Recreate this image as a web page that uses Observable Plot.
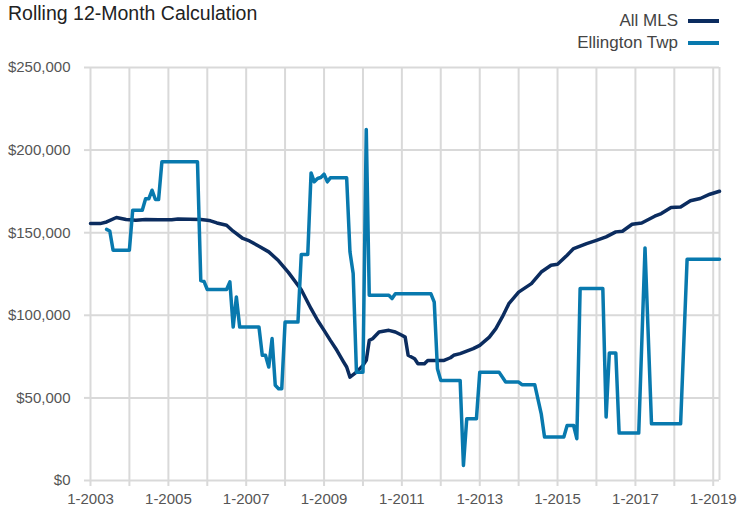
<!DOCTYPE html>
<html>
<head>
<meta charset="utf-8">
<script src="https://cdn.jsdelivr.net/npm/d3@7"></script>
<script src="https://cdn.jsdelivr.net/npm/@observablehq/plot@0.6"></script>
<style>
  body { margin: 0; background: #fff; }
  #wrap { position: relative; width: 738px; height: 515px; font-family: "Liberation Sans", Arial, sans-serif; }
  #header { position: relative; height: 50px; }
  #title { position: absolute; left: 8px; top: 1px; font-size: 19.5px; line-height: 24px; color: #222; white-space: nowrap; }
  .leg { position: absolute; right: 60px; font-size: 17px; line-height: 20px; color: #444; white-space: nowrap; }
  .sw { position: absolute; left: 688px; width: 31px; height: 4px; }
  svg { display: block; }
</style>
</head>
<body>
<div id="wrap">
  <div id="header">
    <div id="title">Rolling 12-Month Calculation</div>
    <div class="leg" id="leg1" style="top:11px">All MLS</div>
    <div class="sw" id="sw1" style="top:19px"></div>
    <div class="leg" id="leg2" style="top:33px">Ellington Twp</div>
    <div class="sw" id="sw2" style="top:41px"></div>
  </div>
  <div id="chart"></div>
</div>
<script>
const seriesNames = ["All MLS", "Ellington Twp"];
const seriesColors = ["#0b2c5f", "#0879ae"];

const mlsMonths = ["2003-01","2003-04","2003-06","2003-09","2003-12","2004-03","2004-06","2004-10","2005-02","2005-04","2005-11","2006-01","2006-02","2006-04","2006-07","2006-09","2006-12","2007-02","2007-05","2007-08","2007-11","2008-02","2008-06","2008-09","2008-11","2009-01","2009-03","2009-05","2009-07","2009-08","2009-09","2009-11","2010-01","2010-02","2010-03","2010-04","2010-06","2010-09","2010-11","2011-01","2011-02","2011-03","2011-05","2011-06","2011-08","2011-09","2012-02","2012-04","2012-05","2012-07","2012-11","2013-01","2013-04","2013-06","2013-08","2013-10","2014-01","2014-05","2014-08","2014-11","2015-01","2015-04","2015-06","2015-10","2016-01","2016-04","2016-07","2016-09","2016-12","2017-03","2017-07","2017-09","2017-12","2018-03","2018-06","2018-09","2018-12","2019-03"];
const mlsValues = [155500,155500,156500,159200,158000,157500,158000,157800,157800,158300,158000,157500,157200,155900,154500,150900,146500,145000,141800,138400,133000,126000,115500,104000,97000,90900,84800,78800,72000,68700,62600,65600,69700,72700,84800,85800,89900,90900,89900,87900,86800,75800,73700,70700,70700,72700,72700,74300,75800,76800,79800,81800,86800,91900,99000,107000,114000,119200,126200,130300,130900,136400,140400,143400,145400,147500,150500,150900,155100,155900,160000,161600,165300,165600,169300,170700,173300,175100];

const twpMonths = ["2003-06","2003-07","2003-08","2004-01","2004-02","2004-05","2004-06","2004-07","2004-08","2004-09","2004-10","2004-11","2005-10","2005-11","2005-12","2006-01","2006-07","2006-08","2006-09","2006-10","2006-11","2007-05","2007-06","2007-07","2007-08","2007-09","2007-10","2007-11","2007-12","2008-01","2008-05","2008-06","2008-08","2008-09","2008-10","2008-11","2008-12","2009-01","2009-02","2009-03","2009-08","2009-09","2009-10","2009-11","2010-01","2010-02","2010-03","2010-09","2010-10","2010-11","2011-10","2011-11","2011-12","2012-01","2012-07","2012-08","2012-09","2012-12","2013-01","2013-07","2013-09","2014-01","2014-02","2014-06","2014-08","2014-09","2015-03","2015-04","2015-06","2015-07","2015-08","2016-03","2016-04","2016-05","2016-07","2016-08","2017-02","2017-04","2017-06","2018-03","2018-05","2019-03"];
const twpValues = [152000,151000,139400,139400,163600,163600,170500,170500,175700,170100,170100,192900,192900,121000,120500,115600,115600,120200,92900,111100,92900,92900,75800,75800,68700,85900,57600,55600,55600,95900,95900,136800,136800,186200,180800,182800,183400,185400,180800,183200,183200,138400,125300,65600,65600,212500,112100,112100,110100,113000,113000,108000,67700,60600,60600,9100,37400,37400,65600,65600,59600,59600,58000,58000,40400,26300,26300,33300,33300,25300,116200,116200,38400,77200,77200,28700,28700,140800,34300,34300,133900,133900];

const yTicks = [0, 50000, 100000, 150000, 200000, 250000];
const xStart = "2003-01", xEnd = "2019-03";
const firstYear = 2003, lastYear = 2019;

const parse = s => { const [y, m] = s.split("-").map(Number); return new Date(Date.UTC(y, m - 1, 1)); };
const mls = mlsMonths.map((d, i) => ({date: parse(d), value: mlsValues[i], series: seriesNames[0]}));
const twp = twpMonths.map((d, i) => ({date: parse(d), value: twpValues[i], series: seriesNames[1]}));
const yearTicks = d3.range(firstYear, lastYear + 1).map(y => new Date(Date.UTC(y, 0, 1)));
const xDomain = [parse(xStart), parse(xEnd)];

document.getElementById("sw1").style.background = seriesColors[0];
document.getElementById("sw2").style.background = seriesColors[1];

const grid = "#d9d9d9";
const chart = Plot.plot({
  width: 738,
  height: 465,
  marginTop: 17,
  marginBottom: 35,
  marginLeft: 90,
  marginRight: 19,
  style: {fontFamily: '"Liberation Sans", Arial, sans-serif', fontSize: "15px", background: "#fff", overflow: "visible"},
  x: {type: "utc", domain: xDomain, label: null},
  y: {domain: [0, 250000], label: null},
  marks: [
    Plot.gridX(yearTicks, {stroke: grid, strokeOpacity: 1, strokeWidth: 2}),
    Plot.ruleX([xDomain[1]], {stroke: grid, strokeWidth: 2}),
    Plot.gridY(yTicks, {stroke: grid, strokeOpacity: 1, strokeWidth: 2}),
    Plot.axisY(yTicks, {tickSize: 6, tickPadding: 14, stroke: grid, strokeWidth: 2, fill: "#555", tickFormat: d => "$" + d3.format(",")(d), label: null}),
    Plot.axisX(yearTicks, {tickSize: 6, tickPadding: 7, stroke: grid, strokeWidth: 2, fill: "#555", tickFormat: d => (d.getUTCFullYear() - firstYear) % 2 === 0 ? "1-" + d.getUTCFullYear() : "", label: null}),
    Plot.line(mls, {x: "date", y: "value", stroke: seriesColors[0], strokeWidth: 3.5, strokeLinejoin: "round"}),
    Plot.line(twp, {x: "date", y: "value", stroke: seriesColors[1], strokeWidth: 3.5, strokeLinejoin: "round"})
  ]
});
document.getElementById("chart").appendChild(chart);
</script>
</body>
</html>
